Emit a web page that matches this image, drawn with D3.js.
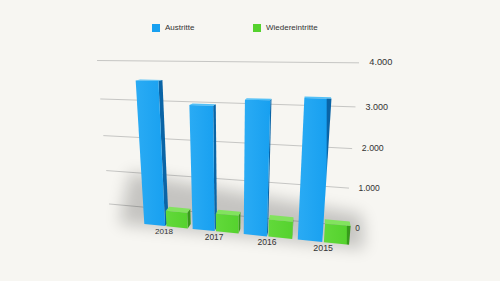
<!DOCTYPE html>
<html>
<head>
<meta charset="utf-8">
<script src="https://cdn.jsdelivr.net/npm/d3@7"></script>
<style>
  html, body { margin: 0; padding: 0; background: #f7f6f2; }
  svg { display: block; font-family: "Liberation Sans", Arial, Helvetica, sans-serif; }
</style>
</head>
<body>
<svg id="chart" width="500" height="281"></svg>
<script>
// data
var years = ["2018", "2017", "2016", "2015"];
var series = ["Austritte", "Wiedereintritte"];
var austritte = [3600, 3070, 3230, 3300];
var wiedereintritte = [420, 460, 440, 460];
var yTicks = [0, 1000, 2000, 3000, 4000];

var colors = {
    Austritte: { front: "#18a0f0", light: "#2aabf4", top: "#52c0f7", dark: "#0a64a6" },
    Wiedereintritte: { front: "#55d22e", light: "#62d93a", top: "#82e35e", dark: "#379a1b" }
};

var de = d3.formatLocale({ decimal: ",", thousands: ".", grouping: [3], currency: ["", " €"] });
var fmt = de.format(",");

// simple perspective camera (scene turned a little, camera looking down)
var f = 380, cx = 231, cy = 140;
var phi = 14 * Math.PI / 180, theta = 11.9 * Math.PI / 180;
var cam = { x: 0.868, y: 1.096, z: 2.514 };
var wallW = 1.623;
var zFront = 0.24, depth = 0.06;

function project(X, Y, Z) {
    var lx = X * Math.cos(theta) - Z * Math.sin(theta) - cam.x,
        ly = Y - cam.y,
        lz = X * Math.sin(theta) + Z * Math.cos(theta) - cam.z;
    var yc = ly * Math.cos(phi) - lz * Math.sin(phi),
        zc = ly * Math.sin(phi) + lz * Math.cos(phi);
    var d = -zc;
    return [cx + f * lx / d, cy - f * yc / d, d];
}
// camera position in scene coords, for face visibility
var camX = cam.x * Math.cos(theta) + cam.z * Math.sin(theta);

function poly(pts) {
    return "M" + pts.map(function(p) { var q = project(p[0], p[1], p[2]); return q[0].toFixed(2) + "," + q[1].toFixed(2); }).join("L") + "Z";
}

var svg = d3.select("#chart");

var y = d3.scaleLinear().domain([0, 4000]).range([0, 1]);
var x0 = d3.scaleBand().domain(years).range([0.362, 1.637]).paddingInner(0.1).paddingOuter(0.05);
var x1 = d3.scaleBand().domain(series).range([0, x0.bandwidth()]).paddingInner(0.06);

var defs = svg.append("defs");
defs.append("filter").attr("id", "blur")
    .attr("x", "-50%").attr("y", "-50%").attr("width", "200%").attr("height", "200%")
    .append("feGaussianBlur").attr("stdDeviation", 8);

series.forEach(function(s) {
    var g = defs.append("linearGradient").attr("id", "grad-" + s)
        .attr("x1", 0).attr("y1", 0).attr("x2", 1).attr("y2", 0);
    g.append("stop").attr("offset", 0).attr("stop-color", colors[s].light);
    g.append("stop").attr("offset", 0.84).attr("stop-color", colors[s].front);
    g.append("stop").attr("offset", 0.88).attr("stop-color", colors[s].dark);
    g.append("stop").attr("offset", 1).attr("stop-color", colors[s].dark);
    var p = defs.append("linearGradient").attr("id", "plain-" + s)
        .attr("x1", 0).attr("y1", 0).attr("x2", 1).attr("y2", 0);
    p.append("stop").attr("offset", 0).attr("stop-color", colors[s].light);
    p.append("stop").attr("offset", 1).attr("stop-color", colors[s].front);
});

// gridlines on the back wall
svg.append("g").selectAll("path")
    .data(yTicks)
    .enter().append("path")
    .attr("d", function(v) {
        var a = project(0, y(v), 0), b = project(wallW, y(v), 0);
        return "M" + a[0] + "," + a[1] + "L" + b[0] + "," + b[1];
    })
    .attr("stroke", "#c6c6c4")
    .attr("stroke-width", 1)
    .attr("fill", "none");

// soft shadow around the bar bases
svg.append("path")
    .attr("d", poly([[0.22, 0.28, 0.08], [1.7, 0.12, 0.08], [1.7, 0, zFront + 0.03], [0.22, 0, zFront + 0.03]]))
    .attr("fill", "#000")
    .attr("opacity", 0.2)
    .attr("filter", "url(#blur)");

// bars
var bars = [];
years.forEach(function(yr, i) {
    bars.push({ year: yr, key: "Austritte", value: austritte[i] });
    bars.push({ year: yr, key: "Wiedereintritte", value: wiedereintritte[i] });
});

var barG = svg.append("g");
bars.forEach(function(d) {
    var xa = x0(d.year) + x1(d.key), xb = xa + x1.bandwidth();
    var h = y(d.value), zf = zFront, zb = zFront - depth;
    var c = colors[d.key];
    var g = barG.append("g");
    var side = camX > xb;
    if (side) {
        g.append("path").attr("d", poly([[xb, 0, zf], [xb, 0, zb], [xb, h, zb], [xb, h, zf]])).attr("fill", c.dark);
    }
    g.append("path").attr("d", poly([[xa, h, zb], [xb, h, zb], [xb, h, zf], [xa, h, zf]])).attr("fill", c.top);
    g.append("path").attr("d", poly([[xa, 0, zf], [xb, 0, zf], [xb, h, zf], [xa, h, zf]]))
        .attr("fill", "url(#" + (side ? "plain-" : "grad-") + d.key + ")");
});

// tick labels
svg.append("g").selectAll("text")
    .data(yTicks)
    .enter().append("text")
    .each(function(v) {
        var p = project(wallW + 0.055, y(v), 0);
        d3.select(this)
            .attr("x", p[0]).attr("y", p[1] + (v === 0 ? 2 : 0))
            .attr("font-size", (19.7 / p[2]).toFixed(2) + "px");
    })
    .attr("dominant-baseline", "middle")
    .attr("fill", "#333")
    .text(function(v) { return fmt(v); });

// category labels
svg.append("g").selectAll("text")
    .data(years)
    .enter().append("text")
    .each(function(yr) {
        var p = project(x0(yr) + x0.bandwidth() / 2, 0, zFront + 0.03);
        d3.select(this)
            .attr("x", p[0]).attr("y", p[1])
            .attr("font-size", (19 / p[2]).toFixed(2) + "px");
    })
    .attr("text-anchor", "middle")
    .attr("dominant-baseline", "hanging")
    .attr("fill", "#333")
    .text(function(yr) { return yr; });

// legend
var legendX = [152, 253];
var legend = svg.append("g").selectAll("g")
    .data(series)
    .enter().append("g")
    .attr("transform", function(s, i) { return "translate(" + legendX[i] + ",24)"; });
legend.append("rect")
    .attr("width", 8).attr("height", 8)
    .attr("fill", function(s) { return colors[s].front; });
legend.append("text")
    .attr("x", 13).attr("y", 4)
    .attr("dominant-baseline", "middle")
    .attr("font-size", "8px")
    .attr("fill", "#333")
    .text(function(s) { return s; });
</script>
</body>
</html>
